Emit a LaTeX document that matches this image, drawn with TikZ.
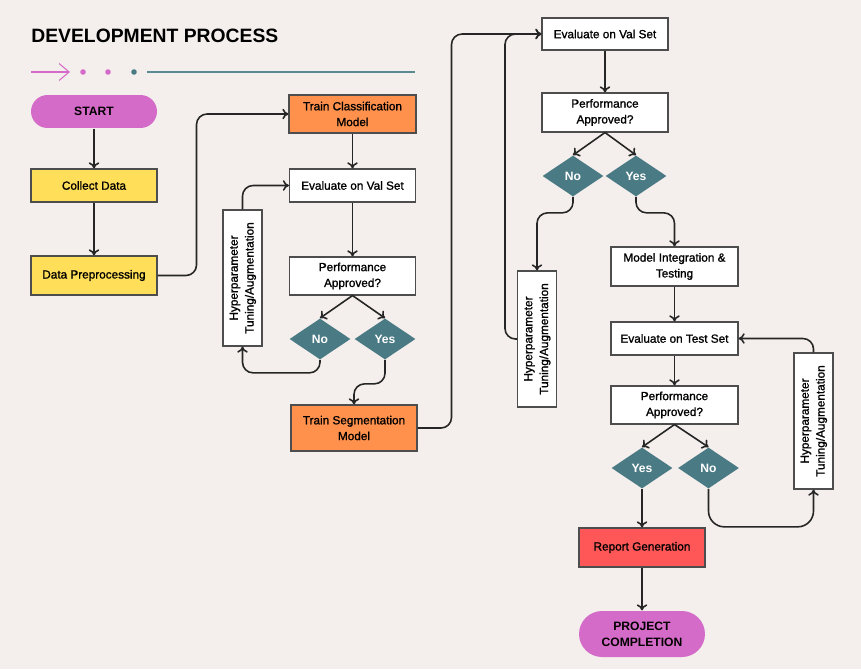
\documentclass[tikz,border=0pt]{standalone}
\usepackage{fontspec}
\setmainfont{Liberation Sans}
\newfontfamily\boxfont{Liberation Sans}[FakeBold=1.2]
\usepackage{tikz}
\usetikzlibrary{shapes.geometric,arrows.meta}

\definecolor{bgcol}{HTML}{F4EFEC}
\definecolor{startpink}{HTML}{D56BC8}
\definecolor{dataylw}{HTML}{FFDE59}
\definecolor{trainorg}{HTML}{FF914D}
\definecolor{reportred}{HTML}{FF5757}
\definecolor{dtteal}{HTML}{4A7A84}
\definecolor{lineteal}{HTML}{5B8A93}
\definecolor{edgegray}{HTML}{4D4D4D}

\tikzset{
  box/.style={draw=edgegray, line width=0.6pt, fill=white, minimum width=2.52cm,
    minimum height=0.66cm, inner sep=1pt, align=center,
    font=\boxfont\fontsize{6.7}{9}\selectfont},
  pill/.style={box, draw=none, rounded corners=0.33cm,
    font=\bfseries\fontsize{6.9}{9}\selectfont},
  dec/.style={diamond, fill=dtteal, text=white, minimum width=1.22cm,
    minimum height=0.82cm, inner sep=0pt, font=\bfseries\fontsize{6.9}{9}\selectfont},
  tune/.style={box, minimum width=0.78cm, minimum height=2.72cm, inner sep=0pt},
  link/.style={draw=black!85, line width=0.9pt, -{To[length=3.5pt,width=6pt]},
    rounded corners=6pt},
}

\newcommand{\tunetext}{\rotatebox{90}{\begin{tabular}{@{}c@{}}Hyperparameter\\Tuning/Augmentation\end{tabular}}}

\begin{document}
\begin{tikzpicture}[x=0.02cm, y=-0.02cm]
  \fill[bgcol] (0,0) rectangle (861,669);
  \useasboundingbox (0,0) rectangle (861,669);

  % heading
  \node[anchor=west, inner sep=0pt, font=\bfseries\fontsize{11}{13}\selectfont] (title) at (31,36) {DEVELOPMENT PROCESS};
  \draw[startpink, line width=0.6pt, -{Straight Barb[length=5.7pt,width=9.6pt]}] (31,72) -- (70,72);
  \fill[startpink] (83,72) circle (2.8);
  \fill[startpink] (108,72) circle (2.8);
  \fill[dtteal] (134,72) circle (2.8);
  \draw[lineteal, line width=0.9pt] (147,72) -- (415,72);

  % first column
  \node[pill, fill=startpink] (start) at (94,111.5) {START};
  \node[box, fill=dataylw] (collect) at (94,185.5) {Collect Data};
  \node[box, fill=dataylw, minimum height=0.78cm] (prep) at (94,275.5) {Data Preprocessing};

  % classification
  \node[box, fill=trainorg, minimum width=2.54cm, minimum height=0.76cm] (trainc) at (352.5,114) {Train Classification\\Model};
  \node[box] (evalv1) at (352.5,185.5) {Evaluate on Val Set};
  \node[box, minimum height=0.76cm] (perf1) at (352.5,276) {Performance\\Approved?};
  \node[dec] (no1) at (320,339) {No};
  \node[dec] (yes1) at (385,339) {Yes};
  \node[tune] (hyper1) at (242.5,278) {\tunetext};
  \node[box, fill=trainorg, minimum height=0.92cm] (trains) at (354,428) {Train Segmentation\\Model};

  % segmentation
  \node[box, minimum height=0.64cm] (evalv2) at (605,34) {Evaluate on Val Set};
  \node[box, minimum height=0.78cm] (perf2) at (605,112.5) {Performance\\Approved?};
  \node[dec] (no2) at (573,176) {No};
  \node[dec] (yes2) at (636,176) {Yes};
  \node[tune] (hyper2) at (537,339) {\tunetext};

  % integration and test
  \node[box, minimum width=2.54cm, minimum height=0.78cm] (integ) at (674.5,266.5) {Model Integration \&\\Testing};
  \node[box, minimum width=2.54cm] (evalt) at (674.5,338.5) {Evaluate on Test Set};
  \node[box, minimum width=2.54cm, minimum height=0.76cm] (perf3) at (674.5,405) {Performance\\Approved?};
  \node[dec] (yes3) at (642,468) {Yes};
  \node[dec] (no3) at (708.5,468) {No};
  \node[tune] (hyper3) at (813.5,421) {\tunetext};
  \node[box, fill=reportred, minimum height=0.78cm] (report) at (642,547.5) {Report Generation};
  \node[pill, fill=startpink, minimum height=0.92cm, rounded corners=0.46cm] (finish) at (642,634) {PROJECT\\COMPLETION};

  \draw[link] (start) -- (collect);
  \draw[link] (collect) -- (prep);
  \draw[link] (prep.east) -- ++(39,0) |- (trainc.west);
  \draw[link] (trainc) -- (evalv1);
  \draw[link] (evalv1) -- (perf1);
  \draw[link] (perf1.south) -- (no1.north);
  \draw[link] (perf1.south) -- (yes1.north);
  \draw[link] (no1.south) -- ++(0,13) -| (hyper1.south);
  \draw[link] (hyper1.north) |- (evalv1.west);
  \draw[link] (yes1.south) -- ++(0,24) -| (trains.north);
  \draw[link] (trains.east) -- ++(34,0) |- (evalv2.west);

  \draw[link] (evalv2) -- (perf2);
  \draw[link] (perf2.south) -- (no2.north);
  \draw[link] (perf2.south) -- (yes2.north);
  \draw[link] (no2.south) -- ++(0,16) -| (hyper2.north);
  \draw[link] (hyper2.west) -- ++(-12,0) |- (evalv2.west);
  \draw[link] (yes2.south) -- ++(0,16) -| (integ.north);

  \draw[link] (integ) -- (evalt);
  \draw[link] (evalt) -- (perf3);
  \draw[link] (perf3.south) -- (yes3.north);
  \draw[link] (perf3.south) -- (no3.north);
  \draw[link] (yes3) -- (report);
  \draw[link] (report) -- (finish);
  \draw[link, rounded corners=9pt] (no3.south) -- ++(0,38) -| (hyper3.south);
  \draw[link] (hyper3.north) |- (evalt.east);
\end{tikzpicture}
\end{document}
